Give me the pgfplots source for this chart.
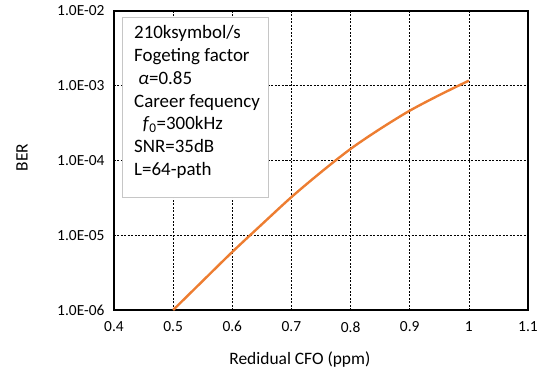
\documentclass[border=0pt]{standalone}
\usepackage{pgfplots}
\pgfplotsset{compat=1.18}
\usepackage{fontspec}
\setmainfont{Carlito}
\definecolor{excelorange}{HTML}{ED7D31}
\begin{document}
\begin{tikzpicture}
\path (-114bp,-66bp) rectangle (429bp,310bp);
\begin{axis}[
  scale only axis,
  width=414bp, height=299bp,
  at={(0,0)}, anchor=south west,
  ymode=log,
  xmin=0.4, xmax=1.1,
  ymin=1e-6, ymax=1e-2,
  xtick={0.4,0.5,0.6,0.7,0.8,0.9,1.0,1.1},
  xticklabels={0.4,0.5,0.6,0.7,0.8,0.9,1,1.1},
  ytick={1e-6,1e-5,1e-4,1e-3,1e-2},
  yticklabels={1.0E-06,1.0E-05,1.0E-04,1.0E-03,1.0E-02},
  minor ytick={},
  log basis y=10,
  tick style={draw=none},
  grid=major,
  major grid style={black, line width=0.6pt, dash pattern=on 2bp off 1.5bp},
  axis line style={black, line width=2.6bp},
  ticklabel style={font=\fontsize{15.5}{17}\selectfont},
  xticklabel style={yshift=-8bp},
  yticklabel style={xshift=-6bp},
  xlabel={Redidual CFO (ppm)},
  ylabel={BER},
  label style={font=\fontsize{17.5}{19}\selectfont},
  xlabel style={at={(axis description cs:0.449,-0.167)}, anchor=center},
  ylabel style={at={(axis description cs:-0.222,0.51)}, anchor=center},
  /pgf/number format/assume math mode=true,
  clip=true,
]
\addplot[color=excelorange, line width=2.4bp, smooth] coordinates {
  (0.50,1.0e-6)
  (0.55,2.45e-6)
  (0.60,5.98e-6)
  (0.65,1.40e-5)
  (0.70,3.24e-5)
  (0.75,6.98e-5)
  (0.80,1.43e-4)
  (0.85,2.65e-4)
  (0.90,4.64e-4)
  (0.95,7.5e-4)
  (1.00,1.17e-3)
};
\end{axis}
\node[draw=gray!45, line width=1bp, fill=white, anchor=north west, inner sep=0pt,
      minimum width=146bp, minimum height=180bp] at (8bp,293bp) {};
\node[anchor=north west, align=left, inner sep=0pt,
      font=\fontsize{19}{23}\selectfont] at (20bp,285bp) {%
210ksymbol/s\\
Fogeting factor\\
\ {\itshape α}=0.85\\
Career fequency\\
\ \ \textit{f}\textsubscript{0}=300kHz\\
SNR=35dB\\
L=64-path};
\end{tikzpicture}
\end{document}
